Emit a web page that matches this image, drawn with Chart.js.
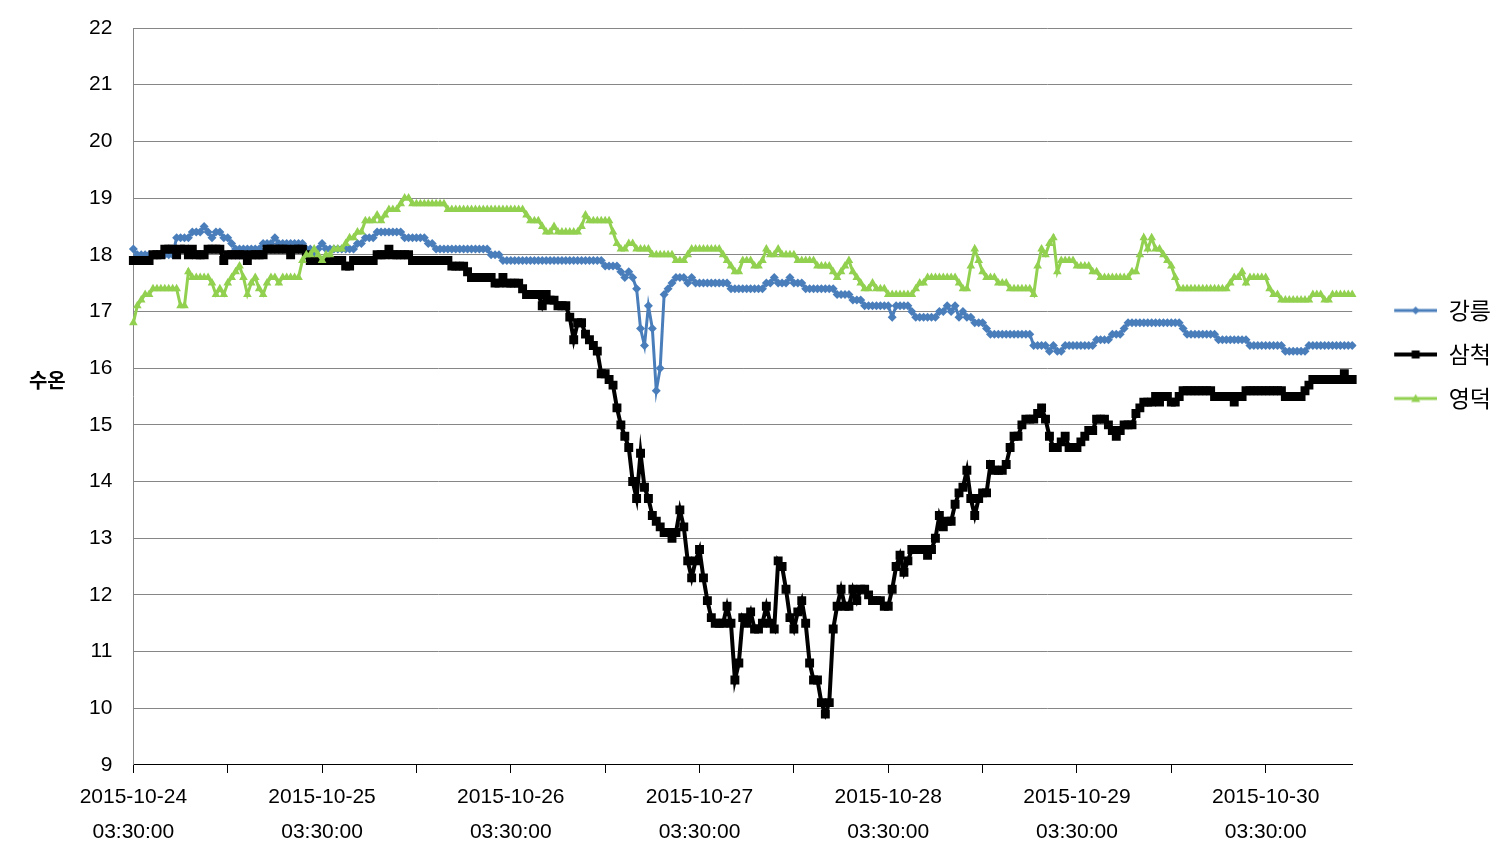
<!DOCTYPE html>
<html>
<head>
<meta charset="utf-8">
<script src="https://cdn.jsdelivr.net/npm/chart.js@4.4.1/dist/chart.umd.min.js"></script>
<style>
html,body{margin:0;padding:0;background:#fff;}
#wrap{position:relative;width:1502px;height:864px;}
</style>
</head>
<body>
<div id="wrap"><canvas id="c"></canvas></div>
<script>
// ---- data (half-hourly, 2015-10-24 03:30 onwards) ----
const seriesNames = ['강릉', '삼척', '영덕'];
const yTitle = '수온';
const dateTicks = ['2015-10-24','2015-10-25','2015-10-26','2015-10-27','2015-10-28','2015-10-29','2015-10-30'];
const timeTick = '03:30:00';
const yTicks = [9,10,11,12,13,14,15,16,17,18,19,20,21,22];

const gangneung = [
18.1,18.0,18.0,18.0,18.0,18.0,18.0,18.0,18.0,18.0,
18.0,18.3,18.3,18.3,18.3,18.4,18.4,18.4,18.5,18.4,
18.3,18.4,18.4,18.3,18.3,18.2,18.1,18.1,18.1,18.1,
18.1,18.1,18.1,18.2,18.2,18.2,18.3,18.2,18.2,18.2,
18.2,18.2,18.2,18.2,18.1,18.1,18.0,18.1,18.2,18.1,
18.1,18.1,18.1,18.1,18.1,18.1,18.1,18.2,18.2,18.3,
18.3,18.3,18.4,18.4,18.4,18.4,18.4,18.4,18.4,18.3,
18.3,18.3,18.3,18.3,18.3,18.2,18.2,18.1,18.1,18.1,
18.1,18.1,18.1,18.1,18.1,18.1,18.1,18.1,18.1,18.1,
18.1,18.0,18.0,18.0,17.9,17.9,17.9,17.9,17.9,17.9,
17.9,17.9,17.9,17.9,17.9,17.9,17.9,17.9,17.9,17.9,
17.9,17.9,17.9,17.9,17.9,17.9,17.9,17.9,17.9,17.9,
17.8,17.8,17.8,17.8,17.7,17.6,17.7,17.6,17.4,16.7,
16.4,17.1,16.7,15.6,16.0,17.3,17.4,17.5,17.6,17.6,
17.6,17.5,17.6,17.5,17.5,17.5,17.5,17.5,17.5,17.5,
17.5,17.5,17.4,17.4,17.4,17.4,17.4,17.4,17.4,17.4,
17.4,17.5,17.5,17.6,17.5,17.5,17.5,17.6,17.5,17.5,
17.5,17.4,17.4,17.4,17.4,17.4,17.4,17.4,17.4,17.3,
17.3,17.3,17.3,17.2,17.2,17.2,17.1,17.1,17.1,17.1,
17.1,17.1,17.1,16.9,17.1,17.1,17.1,17.1,17.0,16.9,
16.9,16.9,16.9,16.9,16.9,17.0,17.0,17.1,17.0,17.1,
16.9,17.0,16.9,16.9,16.8,16.8,16.8,16.7,16.6,16.6,
16.6,16.6,16.6,16.6,16.6,16.6,16.6,16.6,16.6,16.4,
16.4,16.4,16.4,16.3,16.4,16.3,16.3,16.4,16.4,16.4,
16.4,16.4,16.4,16.4,16.4,16.5,16.5,16.5,16.5,16.6,
16.6,16.6,16.7,16.8,16.8,16.8,16.8,16.8,16.8,16.8,
16.8,16.8,16.8,16.8,16.8,16.8,16.8,16.7,16.6,16.6,
16.6,16.6,16.6,16.6,16.6,16.6,16.5,16.5,16.5,16.5,
16.5,16.5,16.5,16.5,16.4,16.4,16.4,16.4,16.4,16.4,
16.4,16.4,16.4,16.3,16.3,16.3,16.3,16.3,16.3,16.4,
16.4,16.4,16.4,16.4,16.4,16.4,16.4,16.4,16.4,16.4,
16.4
];

const samcheok = [
17.9,17.9,17.9,17.9,17.9,18.0,18.0,18.0,18.1,18.1,
18.1,18.0,18.1,18.1,18.0,18.1,18.0,18.0,18.0,18.1,
18.1,18.1,18.1,17.9,18.0,18.0,18.0,18.0,18.0,17.9,
18.0,18.0,18.0,18.0,18.1,18.1,18.1,18.1,18.1,18.1,
18.0,18.1,18.1,18.1,18.0,17.9,17.9,17.9,17.9,17.9,
17.9,17.9,17.9,17.9,17.8,17.8,17.9,17.9,17.9,17.9,
17.9,17.9,18.0,18.0,18.0,18.1,18.0,18.0,18.0,18.0,
18.0,17.9,17.9,17.9,17.9,17.9,17.9,17.9,17.9,17.9,
17.9,17.8,17.8,17.8,17.8,17.7,17.6,17.6,17.6,17.6,
17.6,17.6,17.5,17.5,17.6,17.5,17.5,17.5,17.5,17.4,
17.3,17.3,17.3,17.3,17.1,17.3,17.2,17.2,17.1,17.1,
17.1,16.9,16.5,16.8,16.8,16.6,16.5,16.4,16.3,15.9,
15.9,15.8,15.7,15.3,15.0,14.8,14.6,14.0,13.7,14.5,
13.9,13.7,13.4,13.3,13.2,13.1,13.1,13.0,13.1,13.5,
13.2,12.6,12.3,12.6,12.8,12.3,11.9,11.6,11.5,11.5,
11.5,11.8,11.5,10.5,10.8,11.6,11.5,11.7,11.4,11.4,
11.5,11.8,11.5,11.4,12.6,12.5,12.1,11.6,11.4,11.7,
11.9,11.5,10.8,10.5,10.5,10.1,9.9,10.1,11.4,11.8,
12.1,11.8,11.8,12.1,11.9,12.1,12.1,12.0,11.9,11.9,
11.9,11.8,11.8,12.1,12.5,12.7,12.4,12.6,12.8,12.8,
12.8,12.8,12.7,12.8,13.0,13.4,13.2,13.3,13.3,13.6,
13.8,13.9,14.2,13.7,13.4,13.7,13.8,13.8,14.3,14.2,
14.2,14.2,14.3,14.6,14.8,14.8,15.0,15.1,15.1,15.1,
15.2,15.3,15.1,14.8,14.6,14.6,14.7,14.8,14.6,14.6,
14.6,14.7,14.8,14.9,14.9,15.1,15.1,15.1,15.0,14.9,
14.8,14.9,15.0,15.0,15.0,15.2,15.3,15.4,15.4,15.4,
15.5,15.4,15.5,15.5,15.4,15.4,15.5,15.6,15.6,15.6,
15.6,15.6,15.6,15.6,15.6,15.5,15.5,15.5,15.5,15.5,
15.4,15.5,15.5,15.6,15.6,15.6,15.6,15.6,15.6,15.6,
15.6,15.6,15.6,15.5,15.5,15.5,15.5,15.5,15.6,15.7,
15.8,15.8,15.8,15.8,15.8,15.8,15.8,15.8,15.9,15.8,
15.8
];

const yeongdeok = [
16.8,17.1,17.2,17.3,17.3,17.4,17.4,17.4,17.4,17.4,
17.4,17.4,17.1,17.1,17.7,17.6,17.6,17.6,17.6,17.6,
17.5,17.3,17.4,17.3,17.5,17.6,17.7,17.8,17.6,17.3,
17.5,17.6,17.4,17.3,17.5,17.6,17.6,17.5,17.6,17.6,
17.6,17.6,17.6,17.9,18.0,18.0,18.1,18.0,17.9,18.0,
18.0,18.1,18.1,18.1,18.2,18.3,18.3,18.4,18.4,18.6,
18.6,18.6,18.7,18.6,18.7,18.8,18.8,18.8,18.9,19.0,
19.0,18.9,18.9,18.9,18.9,18.9,18.9,18.9,18.9,18.9,
18.8,18.8,18.8,18.8,18.8,18.8,18.8,18.8,18.8,18.8,
18.8,18.8,18.8,18.8,18.8,18.8,18.8,18.8,18.8,18.8,
18.7,18.6,18.6,18.6,18.5,18.4,18.4,18.5,18.4,18.4,
18.4,18.4,18.4,18.4,18.5,18.7,18.6,18.6,18.6,18.6,
18.6,18.6,18.4,18.2,18.1,18.1,18.2,18.2,18.1,18.1,
18.1,18.1,18.0,18.0,18.0,18.0,18.0,18.0,17.9,17.9,
17.9,18.0,18.1,18.1,18.1,18.1,18.1,18.1,18.1,18.1,
18.0,17.9,17.8,17.7,17.7,17.9,17.9,17.9,17.8,17.8,
17.9,18.1,18.0,18.0,18.1,18.0,18.0,18.0,18.0,17.9,
17.9,17.9,17.9,17.9,17.8,17.8,17.8,17.8,17.7,17.6,
17.7,17.8,17.9,17.7,17.6,17.5,17.4,17.4,17.5,17.4,
17.4,17.4,17.3,17.3,17.3,17.3,17.3,17.3,17.3,17.4,
17.5,17.5,17.6,17.6,17.6,17.6,17.6,17.6,17.6,17.6,
17.5,17.4,17.4,17.8,18.1,17.9,17.7,17.6,17.6,17.6,
17.5,17.5,17.5,17.4,17.4,17.4,17.4,17.4,17.4,17.3,
17.8,18.1,18.0,18.2,18.3,17.7,17.9,17.9,17.9,17.9,
17.8,17.8,17.8,17.8,17.7,17.7,17.6,17.6,17.6,17.6,
17.6,17.6,17.6,17.6,17.7,17.7,18.0,18.3,18.1,18.3,
18.1,18.1,18.0,17.9,17.8,17.6,17.4,17.4,17.4,17.4,
17.4,17.4,17.4,17.4,17.4,17.4,17.4,17.4,17.4,17.5,
17.6,17.6,17.7,17.5,17.6,17.6,17.6,17.6,17.6,17.4,
17.3,17.3,17.2,17.2,17.2,17.2,17.2,17.2,17.2,17.2,
17.3,17.3,17.3,17.2,17.2,17.3,17.3,17.3,17.3,17.3,
17.3
];

// category labels: one every 30 minutes starting 2015-10-24 03:30:00
const pad = n => String(n).padStart(2, '0');
const categories = gangneung.map((_, i) => {
  const mins = 3 * 60 + 30 + 30 * i;
  const day = 24 + Math.floor(mins / 1440);
  const m = mins % 1440;
  return '2015-10-' + pad(day) + ' ' + pad(Math.floor(m / 60)) + ':' + pad(m % 60) + ':00';
});

const colors = ['#4A7EBB', '#000000', '#92D050'];
const markers = ['rectRot', 'rect', 'triangle'];
const markerRadius = [4.5, 6.3, 5];
const lineWidths = [3, 4, 3];

// legend symbols (line with marker in the middle)
function legendSymbol(k) {
  const cv = document.createElement('canvas');
  cv.width = 64; cv.height = 14;
  const g = cv.getContext('2d');
  g.strokeStyle = colors[k]; g.fillStyle = colors[k];
  g.lineWidth = lineWidths[k];
  g.beginPath(); g.moveTo(21, 7); g.lineTo(64, 7); g.stroke();
  const cx = 42.5, cy = 7;
  g.beginPath();
  if (k === 0) { g.moveTo(cx, cy - 4); g.lineTo(cx + 4, cy); g.lineTo(cx, cy + 4); g.lineTo(cx - 4, cy); }
  else if (k === 1) { g.rect(cx - 4, cy - 4, 8, 8); }
  else { g.moveTo(cx, cy - 4.5); g.lineTo(cx + 4.5, cy + 3.5); g.lineTo(cx - 4.5, cy + 3.5); }
  g.closePath(); g.fill();
  return cv;
}

const dataSets = [gangneung, samcheok, yeongdeok];
const datasets = dataSets.map((arr, k) => ({
  label: seriesNames[k],
  data: arr,
  borderColor: colors[k],
  backgroundColor: colors[k],
  borderWidth: lineWidths[k],
  pointStyle: markers[k],
  pointRadius: markerRadius[k],
  pointBorderWidth: 0,
  pointBackgroundColor: colors[k],
  pointBorderColor: colors[k],
  tension: 0,
  order: 3 - k,
  legendSymbol: legendSymbol(k)
}));

const font = '"Liberation Sans", "Noto Sans CJK KR", sans-serif';

// horizontal (unrotated) value-axis title, left of the tick labels
const yTitlePlugin = {
  id: 'yTitleHorizontal',
  afterDraw(chart) {
    const { ctx, chartArea } = chart;
    ctx.save();
    ctx.font = 'bold 20px "Noto Sans CJK KR", sans-serif';
    ctx.fillStyle = '#000';
    ctx.textAlign = 'center';
    ctx.textBaseline = 'middle';
    ctx.fillText(yTitle, chartArea.left - 86, (chartArea.top + chartArea.bottom) / 2 - 16);
    ctx.restore();
  }
};

new Chart(document.getElementById('c'), {
  type: 'line',
  data: { labels: categories, datasets },
  plugins: [yTitlePlugin],
  options: {
    responsive: true,
    maintainAspectRatio: false,
    animation: false,
    devicePixelRatio: 1,
    layout: { autoPadding: false, padding: { top: 28, right: 1, bottom: 7, left: 68 } },
    plugins: {
      tooltip: { enabled: false },
      legend: {
        position: 'right',
        align: 'start',
        title: { display: true, text: '', padding: { top: 238, bottom: 0 }, font: { size: 10 } },
        labels: {
          usePointStyle: true,
          pointStyleWidth: 64,
          padding: 21,
          color: '#000',
          font: { family: '"Noto Sans CJK KR", sans-serif', size: 23 },
          sort: (a, b) => a.datasetIndex - b.datasetIndex,
          generateLabels: (chart) => chart.data.datasets.map((ds, i) => ({
            text: ds.label,
            datasetIndex: i,
            pointStyle: ds.legendSymbol,
            fillStyle: ds.borderColor,
            strokeStyle: ds.borderColor,
            lineWidth: 0,
            fontColor: '#000',
            hidden: false
          }))
        }
      }
    },
    scales: {
      x: {
        type: 'category',
        offset: false,
        border: { display: true, color: '#000', width: 1 },
        grid: {
          display: true,
          drawOnChartArea: false,
          drawTicks: true,
          tickLength: 8,
          tickWidth: 1,
          tickColor: (ctx) => (ctx.index % 24 === 0 ? '#000' : 'rgba(0,0,0,0)')
        },
        ticks: {
          autoSkip: false,
          maxRotation: 0,
          minRotation: 0,
          padding: 7,
          color: '#000',
          font: { family: font, size: 21, lineHeight: 1.667 },
          callback: (value, index) => (index % 48 === 0 ? [dateTicks[index / 48], timeTick] : '')
        }
      },
      y: {
        min: yTicks[0],
        max: yTicks[yTicks.length - 1],
        border: { display: true, color: '#868686', width: 1 },
        grid: { color: '#868686', lineWidth: 1, drawTicks: false },
        afterFit: (s) => { s.paddingTop = 0; s.paddingBottom = 0; },
        ticks: {
          stepSize: 1,
          padding: 21,
          color: '#000',
          font: { family: font, size: 21 }
        },
        title: { display: false }
      }
    }
  }
});
</script>
</body>
</html>
